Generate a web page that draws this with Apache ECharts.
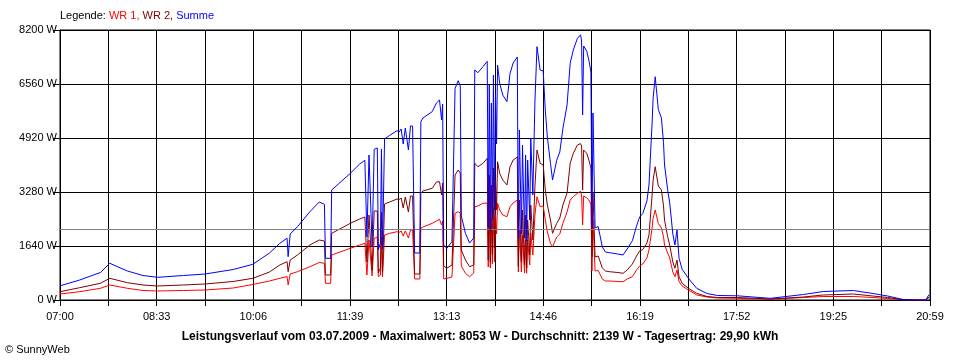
<!DOCTYPE html>
<html><head><meta charset="utf-8">
<script src="https://cdn.jsdelivr.net/npm/echarts@6/dist/echarts.min.js"></script>
<style>html,body{margin:0;padding:0;background:#fff}#c{width:960px;height:360px}</style>
</head><body><div id="c"></div>
<script>
const times = ["07:00","07:19","07:39","07:48","08:05","08:20","08:34","08:59","09:20","09:47",
"10:06","10:22","10:32","10:39","10:40","10:42","10:49","11:01","11:10","11:15",
"11:16","11:21","11:22","11:40","11:49","11:54","11:56","11:58","12:01","12:03",
"12:06","12:07","12:09","12:10","12:11","12:13","12:18","12:25","12:27","12:29",
"12:31","12:33","12:36","12:38","12:40","12:42","12:47","12:48","12:50","12:59",
"13:03","13:06","13:08","13:09","13:10","13:13","13:18","13:21","13:24","13:26",
"13:27","13:31","13:35","13:39","13:40","13:43","13:48","13:52","13:53","13:54",
"13:55","13:56","13:57","13:58","13:59","14:00","14:01","14:02","14:04","14:07",
"14:11","14:14","14:17","14:21","14:22","14:23","14:25","14:26","14:28","14:29",
"14:30","14:31","14:33","14:34","14:36","14:38","14:40","14:43","14:46","14:48",
"14:50","14:53","14:55","14:59","15:02","15:05","15:09","15:12","15:15","15:19",
"15:22","15:23","15:24","15:25","15:28","15:30","15:32","15:33","15:34","15:36",
"15:39","15:43","15:46","15:50","15:58","16:03","16:07","16:12","16:16","16:19",
"16:22","16:26","16:28","16:31","16:32","16:34","16:37","16:40","16:42","16:43",
"16:46","16:48","16:51","16:53","16:55","16:57","17:00","17:06","17:14","17:24",
"17:34","17:53","18:25","18:57","19:16","19:45","20:04","20:18","20:33","20:47",
"20:55","20:58"];

const wr1 = [182,252,355,456,355,289,273,289,304,364,
471,577,659,714,456,790,859,1011,1139,1115,
507,507,1367,1570,1670,1722,759,1822,729,1874,
1913,708,759,1913,699,1974,2026,2074,2050,2096,
1944,2096,1883,2126,2126,638,638,2177,2217,2329,
2399,2451,2278,2399,638,659,699,2633,2682,2642,
1033,811,708,820,2834,2855,2937,2946,1002,2733,
972,2490,1093,2824,1154,2612,2004,2937,2733,2581,
2530,2834,2946,3037,850,2126,850,1974,820,1822,
811,1822,1063,2035,1367,2581,3137,2834,2855,2430,
2065,1722,1619,1913,2004,2329,2673,3037,3137,3240,
3303,3189,2278,3158,3098,3037,2916,881,2430,881,
896,638,577,577,562,556,638,708,911,1033,
1093,1276,1519,2187,2490,2733,2323,2187,1922,1670,
1427,1276,850,708,911,556,425,304,152,91,
61,52,21,76,106,106,76,46,6,0,
0,75];

const wr2 = [252,374,507,659,525,456,425,456,486,562,
659,850,1063,1163,859,1215,1367,1670,1822,1792,
759,759,2026,2329,2460,2521,1154,2581,911,2703,
2703,820,972,2673,850,2916,2976,3067,3050,3098,
2794,3128,2673,3158,3158,790,790,3240,3310,3392,
3584,3593,3189,3553,1033,963,1063,3796,3948,3857,
1519,1215,1011,1063,4152,4048,4152,4303,1215,3796,
1154,3493,1367,4009,1579,3644,2733,4200,3848,3644,
3493,4048,4252,4343,1011,3037,1154,2733,1063,2581,
972,2430,1367,2885,1822,3441,4556,4152,4100,3341,
2885,2430,2026,2329,2490,2885,3250,4152,4455,4707,
4750,4677,3341,4556,4455,4252,4009,1306,3250,1306,
1336,972,881,859,835,811,911,1093,1336,1488,
1534,1731,1974,3189,3644,4048,3462,3341,2855,2430,
1922,1670,1154,963,1215,708,507,355,203,106,
76,76,30,91,152,182,121,76,10,0,
0,90];

const summe = [431,607,835,1115,881,744,689,744,790,926,
1084,1427,1722,1877,1315,2004,2226,2682,2976,2906,
1266,1266,3341,3848,4130,4243,1913,4404,1640,4577,
4616,1528,1731,4586,1549,4890,5002,5142,5100,5193,
4738,5224,4556,5284,5284,1427,1427,5415,5527,5722,
5983,6074,5467,5953,1670,1570,1771,6429,6660,6499,
2552,2026,1731,1883,6986,6903,7089,7249,2217,6529,
2126,5983,2460,6833,2733,6256,4737,7137,6581,6225,
6023,6882,7198,7380,1861,5163,2004,4707,1883,4403,
1783,4252,2430,4920,3189,6022,7693,6986,6955,5771,
4950,4152,3645,4242,4494,5214,5923,7189,7592,7947,
8053,7866,5619,7714,7553,7289,6925,2187,5680,2187,
2232,1610,1458,1436,1397,1367,1549,1801,2247,2521,
2627,3007,3493,5376,6134,6781,5785,5528,4777,4100,
3349,2946,2004,1671,2126,1264,932,659,355,197,
137,128,51,167,258,288,197,122,16,0,
0,165];

const xTickLabels = ["07:00","08:33","10:06","11:39","13:13","14:46","16:19","17:52","19:25","20:59"];
const yMax = 8200, yStep = 1640;
const average = 2139;
const startMin = 7 * 60, spanMin = 839, gridSteps = 18;

const seriesNames = ["WR 1", "WR 2", "Summe"];
const seriesColors = ["#ff0000", "#800000", "#0000ff"];
const titleText = "Leistungsverlauf vom 03.07.2009 - Maximalwert: 8053 W - Durchschnitt: 2139 W - Tagesertrag: 29,90 kWh";

function toMin(t) { const p = t.split(":").map(Number); return p[0] * 60 + p[1] - startMin; }
const pairs = arr => times.map((t, i) => [toMin(t), arr[i]]);
const step = spanMin / gridSteps;
const font = "Liberation Sans, Arial, sans-serif";

const chart = echarts.init(document.getElementById("c"), null, { renderer: "canvas" });
const values = [wr1, wr2, summe];
chart.setOption({
  animation: false,
  backgroundColor: "#fff",
  title: [
    { left: 60, top: 10, padding: 0,
      text: "{k|Legende: }{r|" + seriesNames[0] + ", }{d|" + seriesNames[1] + ", }{b|" + seriesNames[2] + "}",
      textStyle: { fontSize: 11, fontFamily: font, fontWeight: "normal",
        rich: {
          k: { color: "#000", fontSize: 11, fontFamily: font },
          r: { color: seriesColors[0], fontSize: 11, fontFamily: font },
          d: { color: seriesColors[1], fontSize: 11, fontFamily: font },
          b: { color: seriesColors[2], fontSize: 11, fontFamily: font }
        } } },
    { left: "center", top: 331, padding: 0, text: titleText,
      textStyle: { fontSize: 12, fontWeight: "bold", color: "#000", fontFamily: font } },
    { left: 5, top: 344, padding: 0, text: "\u00A9 SunnyWeb",
      textStyle: { fontSize: 11, fontWeight: "normal", color: "#000", fontFamily: font } }
  ],
  grid: { left: 60, right: 30, top: 30, bottom: 60, show: true, borderColor: "#000", borderWidth: 1 },
  xAxis: {
    type: "value", min: 0, max: spanMin, interval: step,
    axisLine: { show: true, lineStyle: { color: "#000", width: 1 } },
    axisTick: { show: true, length: 6, lineStyle: { color: "#000", width: 1 } },
    splitLine: { show: true, lineStyle: { color: "#000", width: 1 } },
    axisLabel: { color: "#000", fontSize: 11, fontFamily: font, margin: 11,
      showMinLabel: true, showMaxLabel: true,
      formatter: v => { const i = Math.round(v / step); return i % 2 === 0 ? (xTickLabels[i / 2] || "") : ""; } }
  },
  yAxis: {
    type: "value", min: 0, max: yMax, interval: yStep,
    axisLine: { show: true, lineStyle: { color: "#000", width: 1 } },
    axisTick: { show: true, length: 7, lineStyle: { color: "#000", width: 1 } },
    splitLine: { show: true, lineStyle: { color: "#000", width: 1 } },
    axisLabel: { color: "#000", fontSize: 11, fontFamily: font, margin: 3, formatter: v => String(v) + " W" }
  },
  series: values.map((arr, k) => ({
    name: seriesNames[k], type: "line", data: pairs(arr),
    showSymbol: false, symbol: "none", smooth: false, sampling: null,
    lineStyle: { color: seriesColors[k], width: 1 },
    itemStyle: { color: seriesColors[k] },
    z: 3 + k,
    markLine: k === 2 ? { silent: true, symbol: "none", label: { show: false },
      lineStyle: { color: "#808080", type: "solid", width: 1 },
      data: [{ yAxis: average }] } : undefined
  }))
});
</script>
</body></html>
